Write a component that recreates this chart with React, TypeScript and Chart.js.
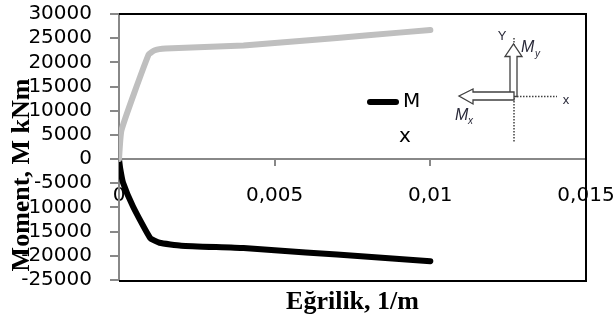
import React, { useEffect, useRef } from 'react';
import { Chart, registerables } from 'chart.js';

Chart.register(...registerables);

// ---- data ----
const curvatureMy = [0, 0.00008, 0.00095, 0.00115, 0.0015, 0.004, 0.006, 0.008, 0.01];
const momentMy = [0, 6000, 21600, 22500, 22850, 23500, 24500, 25600, 26700];
const curvatureMx = [0, 0.00004, 0.00013, 0.00045, 0.001, 0.0013, 0.002, 0.004, 0.006, 0.008, 0.01];
const momentMx = [0, -2000, -4900, -9800, -16300, -17300, -17900, -18400, -19300, -20200, -21100];
const xTickValues = [0, 0.005, 0.01, 0.015];
const yTickValues = [-25000, -20000, -15000, -10000, -5000, 0, 5000, 10000, 15000, 20000, 25000, 30000];
const xTitle = 'Eğrilik, 1/m';
const yTitle = 'Moment, M kNm';
const legendMain = 'M';
const legendSub = 'x';

const fmtX = (v: number) => String(Math.round(v * 1000000) / 1000000).replace('.', ',');

const TICK_FONT = { family: 'DejaVu Sans', size: 20 };
const AXIS_GRAY = '#888888';

const decorPlugin = {
  id: 'decor',
  afterDraw(chart: any) {
    const ctx: CanvasRenderingContext2D = chart.ctx;
    const a = chart.chartArea;
    ctx.save();
    // frame (top, right, bottom)
    ctx.strokeStyle = '#000';
    ctx.lineWidth = 2;
    ctx.beginPath();
    ctx.moveTo(a.left, a.top);
    ctx.lineTo(a.right, a.top);
    ctx.lineTo(a.right, a.bottom + 1);
    ctx.lineTo(a.left, a.bottom + 1);
    ctx.stroke();

    // axis titles
    ctx.fillStyle = '#000';
    ctx.font = 'bold 26px "Liberation Serif"';
    ctx.textAlign = 'center';
    ctx.textBaseline = 'alphabetic';
    ctx.fillText(xTitle, (a.left + a.right) / 2, 309);
    ctx.save();
    ctx.translate(29, 175);
    ctx.rotate(-Math.PI / 2);
    ctx.fillText(yTitle, 0, 0);
    ctx.restore();

    // legend (black series, text wrapped)
    ctx.strokeStyle = '#000';
    ctx.lineWidth = 6;
    ctx.lineCap = 'round';
    ctx.beginPath();
    ctx.moveTo(370, 102);
    ctx.lineTo(396, 102);
    ctx.stroke();
    ctx.font = '20px "DejaVu Sans"';
    ctx.textAlign = 'left';
    ctx.textBaseline = 'middle';
    ctx.fillText(legendMain, 403, 102);
    ctx.fillText(legendSub, 399, 137);

    // inset diagram
    ctx.lineCap = 'butt';
    ctx.strokeStyle = '#404040';
    ctx.lineWidth = 1.5;
    ctx.setLineDash([1.5, 1.5]);
    ctx.beginPath();
    ctx.moveTo(514, 38);
    ctx.lineTo(514, 142);
    ctx.moveTo(517, 96.5);
    ctx.lineTo(557, 96.5);
    ctx.stroke();
    ctx.setLineDash([]);
    ctx.fillStyle = '#fff';
    ctx.lineWidth = 1.3;
    // up arrow (My)
    ctx.beginPath();
    ctx.moveTo(510, 96.5);
    ctx.lineTo(510, 56.5);
    ctx.lineTo(505, 56.5);
    ctx.lineTo(513.5, 44);
    ctx.lineTo(522, 56.5);
    ctx.lineTo(517, 56.5);
    ctx.lineTo(517, 96.5);
    ctx.closePath();
    ctx.fill();
    ctx.stroke();
    // left arrow (Mx)
    ctx.beginPath();
    ctx.moveTo(514, 92);
    ctx.lineTo(473, 92);
    ctx.lineTo(473, 89);
    ctx.lineTo(459, 96);
    ctx.lineTo(473, 104);
    ctx.lineTo(473, 100);
    ctx.lineTo(514, 100);
    ctx.closePath();
    ctx.fill();
    ctx.stroke();
    // inset labels
    ctx.fillStyle = '#2a2a3a';
    ctx.font = '13px "Liberation Sans"';
    ctx.textAlign = 'center';
    ctx.textBaseline = 'middle';
    ctx.fillText('Y', 502, 36);
    ctx.fillText('x', 566, 100);
    ctx.textAlign = 'left';
    ctx.textBaseline = 'alphabetic';
    ctx.font = 'italic 16px "Liberation Sans"';
    ctx.fillText('M', 521, 52);
    ctx.fillText('M', 455, 120);
    ctx.font = 'italic 10px "Liberation Sans"';
    ctx.fillText('y', 535, 57);
    ctx.fillText('x', 468, 124);
    ctx.restore();
  },
};

export default function App() {
  const ref = useRef<HTMLCanvasElement>(null);
  useEffect(() => {
    const chart = new Chart(ref.current as HTMLCanvasElement, {
      type: 'line',
      data: {
        datasets: [
          {
            label: 'My',
            data: curvatureMy.map((x, i) => ({ x, y: momentMy[i] })),
            borderColor: '#BFBFBF',
            borderWidth: 6,
            pointRadius: 0,
            tension: 0.15,
            borderCapStyle: 'round',
            borderJoinStyle: 'round',
            fill: false,
          },
          {
            label: 'Mx',
            data: curvatureMx.map((x, i) => ({ x, y: momentMx[i] })),
            borderColor: '#000000',
            borderWidth: 6,
            pointRadius: 0,
            tension: 0.15,
            borderCapStyle: 'round',
            borderJoinStyle: 'round',
            fill: false,
          },
        ],
      },
      options: {
        animation: false,
        responsive: false,
        devicePixelRatio: 1,
        layout: { padding: { left: 0, top: 14, right: 29, bottom: 40 } },
        plugins: { legend: { display: false }, tooltip: { enabled: false }, title: { display: false } },
        scales: {
          x: {
            type: 'linear',
            position: { y: 0 } as any,
            min: 0,
            max: 0.015,
            afterBuildTicks: (s: any) => {
              s.ticks = xTickValues.map((v) => ({ value: v }));
            },
            afterFit: (s: any) => {
              s.paddingLeft = 0;
              s.paddingRight = 0;
            },
            ticks: {
              font: TICK_FONT,
              color: '#000',
              padding: 19,
              maxRotation: 0,
              autoSkip: false,
              callback: (v: any) => fmtX(Number(v)),
            },
            grid: { drawOnChartArea: false, drawTicks: true, tickLength: 6, color: AXIS_GRAY, lineWidth: 2 },
            border: { display: true, color: AXIS_GRAY, width: 2 },
          },
          y: {
            type: 'linear',
            min: -25000,
            max: 30000,
            afterBuildTicks: (s: any) => {
              s.ticks = yTickValues.map((v) => ({ value: v }));
            },
            afterFit: (s: any) => {
              s.width = 119;
              s.paddingTop = 0;
              s.paddingBottom = 0;
            },
            ticks: {
              font: TICK_FONT,
              color: '#000',
              padding: 18,
              autoSkip: false,
              callback: (v: any) => String(v),
            },
            grid: { drawOnChartArea: false, drawTicks: true, tickLength: 9, color: AXIS_GRAY, lineWidth: 2 },
            border: { display: true, color: AXIS_GRAY, width: 2 },
          },
        },
      },
      plugins: [decorPlugin],
    } as any);
    return () => chart.destroy();
  }, []);
  return (
    <div style={{ position: 'fixed', left: 0, top: 0, width: 615, height: 320, background: '#fff' }}>
      <canvas ref={ref} width={615} height={320} style={{ display: 'block', width: 615, height: 320 }} />
    </div>
  );
}
